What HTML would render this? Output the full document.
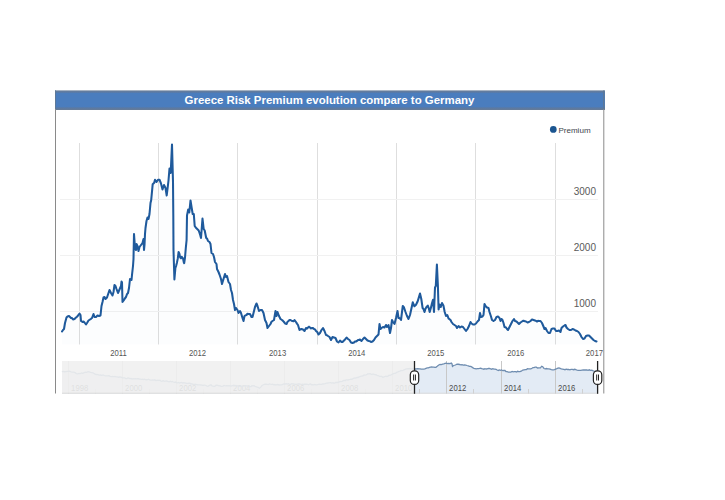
<!DOCTYPE html>
<html><head><meta charset="utf-8"><title>Greece Risk Premium</title>
<style>
html,body{margin:0;padding:0;background:#fff;width:725px;height:500px;overflow:hidden}
svg{display:block;position:absolute;left:0;top:0}
text{font-family:"Liberation Sans",Arial,sans-serif}
.tt{font-size:11.45px;font-weight:bold;fill:#fff}
.yl{font-size:10px;fill:#5a5a5a}
.xl{font-size:8.2px;fill:#555}
.nl{font-size:8.3px;fill:#4a4a4a}
.lg{font-size:8.05px;fill:#40454c}
</style></head>
<body>
<svg width="725" height="500" viewBox="0 0 725 500">
<line x1="79.5" y1="143" x2="79.5" y2="344.5" stroke="#dedede" stroke-width="1"/>
<line x1="158.5" y1="143" x2="158.5" y2="344.5" stroke="#dedede" stroke-width="1"/>
<line x1="237.5" y1="143" x2="237.5" y2="344.5" stroke="#dedede" stroke-width="1"/>
<line x1="317.5" y1="143" x2="317.5" y2="344.5" stroke="#dedede" stroke-width="1"/>
<line x1="396.5" y1="143" x2="396.5" y2="344.5" stroke="#dedede" stroke-width="1"/>
<line x1="475.5" y1="143" x2="475.5" y2="344.5" stroke="#dedede" stroke-width="1"/>
<line x1="555.5" y1="143" x2="555.5" y2="344.5" stroke="#dedede" stroke-width="1"/>
<line x1="60" y1="199.5" x2="598" y2="199.5" stroke="#f1f1f1" stroke-width="1"/>
<text x="596" y="195.2" text-anchor="end" class="yl">3000</text>
<line x1="60" y1="255.5" x2="598" y2="255.5" stroke="#f1f1f1" stroke-width="1"/>
<text x="596" y="251.2" text-anchor="end" class="yl">2000</text>
<line x1="60" y1="311.5" x2="598" y2="311.5" stroke="#f1f1f1" stroke-width="1"/>
<text x="596" y="307.2" text-anchor="end" class="yl">1000</text>
<text transform="translate(118.4,356) scale(0.94,1)" x="0" y="0" text-anchor="middle" class="xl">2011</text>
<text transform="translate(197.5,356) scale(0.94,1)" x="0" y="0" text-anchor="middle" class="xl">2012</text>
<text transform="translate(277.6,356) scale(0.94,1)" x="0" y="0" text-anchor="middle" class="xl">2013</text>
<text transform="translate(356.8,356) scale(0.94,1)" x="0" y="0" text-anchor="middle" class="xl">2014</text>
<text transform="translate(435.7,356) scale(0.94,1)" x="0" y="0" text-anchor="middle" class="xl">2015</text>
<text transform="translate(515.7,356) scale(0.94,1)" x="0" y="0" text-anchor="middle" class="xl">2016</text>
<text transform="translate(594.4,356) scale(0.94,1)" x="0" y="0" text-anchor="middle" class="xl">2017</text>
<path d="M62,331.5 L63,329.93 L64,329 L65,323 L66.5,317.5 L67.5,316.5 L69,316 L70,317 L71,318 L72,318.12 L73,319.5 L74.5,319 L76,317.5 L77,316.77 L78,315.5 L79.5,313.5 L80.5,315 L81,321 L82.5,322 L83.5,321.48 L84.5,322.5 L86,324.5 L87,323 L88.5,320.5 L90,319.5 L91,318.81 L92,318 L93.5,314 L94.5,317 L96,317 L97.5,315.5 L99,316 L100.5,315.5 L101.5,306 L102.5,302 L103.5,297.5 L104.5,297 L105.5,299 L107,297.5 L108.5,293 L109.5,290 L111,293 L112.5,295.5 L113.5,292 L114.5,285 L115.5,286 L116.5,289 L118,293 L119.5,289.5 L121,286 L121.5,281.5 L122,282.5 L122.5,302 L124,300 L125,298.26 L126,297 L127,294.2 L128,293 L129,288 L130,279 L131.5,280 L132,275 L133,266 L133.5,259 L134,234 L135,248 L136,250 L136.5,244 L137.5,246 L138.5,251 L139.5,247 L141,245 L142.5,243 L143.5,239 L144,250 L144.5,245 L145,234 L145.5,228 L146.5,221 L147.5,217.5 L148.5,219 L149.5,214 L150.5,203 L151.2,200 L152.7,184.2 L154.2,182.7 L155,179.7 L156.5,182 L158,179.7 L159.5,179.7 L161,183.5 L162.5,189.5 L164,185 L165.5,188 L166.7,195.5 L167.6,188.01 L168.5,180.5 L169.5,168.5 L170.7,173 L172,144.6 L173,182 L173.3,215 L173.5,250 L174.4,279.5 L175.4,268 L176.2,265.6 L177,262.4 L177.8,258.4 L178.6,252 L179.4,253.6 L180.2,257.6 L181,258.4 L181.8,256.8 L183,258.4 L183.8,262.4 L184.2,263.2 L185,257.6 L185.8,248 L186.6,240 L187,215.5 L188.2,209.5 L189.3,212.5 L190.5,200.5 L191.7,208 L192.7,214 L193.8,214 L194.7,226 L195.7,227.5 L197.2,229 L198.7,230.5 L200.2,235 L201,238 L202.5,218.5 L203.7,229 L204.7,230.5 L206.2,238 L207.1,238.67 L208,241 L209.5,242 L210.5,244 L211.5,253 L213,254 L214,257 L215,262 L216.5,264 L217,269 L218.5,272 L219.5,274.5 L221,279 L222,284 L223.5,279 L225,274 L226,277 L227,276 L228.5,282 L230,284 L231,290 L232,293 L233,300 L234,304 L235,310 L236,308 L237.5,310 L238.5,313 L240,311 L241,313 L242.5,318 L243.5,321 L244.5,316 L245.5,315.38 L246.5,315 L247.5,313.73 L248.5,314 L250,314 L251.5,317 L252.5,317 L254,311 L255,307 L256.5,303.5 L257.5,306 L259,311 L260.5,310 L262,310 L263.5,313 L265,320 L266.5,323 L267.5,328 L269,326 L270.5,324 L271.5,321.76 L272.5,321 L274,320 L275.5,311 L276.5,316 L277.5,312 L279,316 L280.5,319 L282,320 L283,320.86 L284,322 L285.25,323.59 L286.5,324 L287.5,321.82 L288.5,321 L289.5,320 L290.5,320 L291.5,320.73 L292.5,321 L293.5,321.31 L294.5,320 L296,322 L297,323.64 L298,325 L299.5,330 L300.5,329.31 L301.5,329 L303,329.5 L304.5,331 L306,328 L307,328.61 L308,327.5 L309,326.68 L310,327.5 L311,328.4 L312,328 L313,328.12 L314,329 L315,329.36 L316,331 L317.25,332.06 L318.5,334.5 L320,333 L321.5,330 L323,328 L324.5,331 L326,335 L327,335.16 L328,336 L329.5,337 L331,340 L332.5,337 L334,337.5 L335.5,338 L337,341.5 L338.5,342.5 L340,340.5 L341.5,342 L342.5,342.07 L343.5,341 L345,339.5 L346.5,337.5 L348,339 L349.5,340 L351,342.5 L352.5,343 L354,342.5 L355,341.43 L356,341.5 L357,340.9 L358,340 L359,340 L360,339.5 L361.5,341 L363,339 L364.5,337.5 L366,339 L367.5,340.5 L369,341 L370,341.27 L371,342 L372.5,341.5 L374,340 L375.5,337.5 L377,336 L378.5,334.5 L379.5,324 L380.5,329 L381.5,328 L383,327 L384.5,327.5 L386,325 L387,327 L388.5,325 L390,333 L391,328 L392,320 L393,322 L394.5,324 L396,318 L397.5,311 L398.5,318 L399.5,318 L401,320 L402,312 L402.8,306 L404,307.5 L405.5,312 L407,316 L408.5,319 L410,315 L411.2,309.5 L412.8,302.3 L414.4,306.3 L416,304.7 L417.6,301.5 L418.8,297.59 L420,293.5 L421.3,299 L422.6,308 L423.55,309.21 L424.5,312 L425.5,308.71 L426.5,307 L427.8,305.6 L428.75,308.27 L429.7,312 L430.7,308.52 L431.7,304.4 L433,299.8 L434,312 L435,287.5 L435.8,286 L436.9,264.6 L437.9,286 L438.6,309.5 L439.5,304.4 L440.8,307 L442,303 L443.4,305.4 L444.7,312 L446,316 L447.3,315 L448.6,318.6 L449.55,319.17 L450.5,320 L451.5,322 L453,324 L454.5,325 L456,326 L457,328 L458.5,326 L460,327.5 L461.5,326.5 L463,327 L464.5,329 L466,331 L467.5,329 L469,326 L470.5,322 L471.5,323.5 L473,324.5 L474.5,324.5 L476,323.5 L477.5,321.5 L479,320 L480,313 L481,317 L482.5,316.5 L483.5,315 L484.5,304 L485.5,306 L487,307.5 L488.5,308 L489.5,312 L491,316.5 L492,320 L493.5,321 L495,320 L496.5,317 L498,316.5 L499.5,318 L500.5,321 L501.5,319 L502.5,320 L503.5,323 L504.5,327 L506,327.5 L507,329 L508,330 L509.5,327 L510.5,325 L511.5,323 L512.5,321 L514,319 L515,321 L516.5,321.5 L518,323 L519,324 L520.5,322.5 L522,321.5 L523,320.82 L524,320.8 L525,321.3 L526,321.5 L527.5,322.5 L529,322 L530.5,321 L532,319.5 L533.5,320 L535,320.5 L536,320.92 L537,321.5 L538,320.89 L539,321 L540.5,321 L542,323 L543.5,326.5 L544.5,329 L545.5,328 L547,331 L548.5,333 L550,333 L551.5,329 L553,328.5 L554.5,328.5 L556,331 L557.5,331 L559,330.5 L560.5,332 L561.5,328 L563,326.5 L564.5,325.5 L565.5,325 L566.5,327.5 L568,329 L569.5,330 L571,330 L572.5,329 L574,329.5 L575.5,330.5 L577,331 L578.5,332 L580,334 L581.5,337 L583,339 L584.5,338.5 L586,336 L587.5,335.5 L589,335.5 L590.5,337 L592,338.5 L593.5,340 L595,341 L596.5,341.5 L596.5,344.5 L62,344.5 Z" fill="#1f5b9c" fill-opacity="0.012" stroke="none"/>
<path d="M62,331.5 L63,329.93 L64,329 L65,323 L66.5,317.5 L67.5,316.5 L69,316 L70,317 L71,318 L72,318.12 L73,319.5 L74.5,319 L76,317.5 L77,316.77 L78,315.5 L79.5,313.5 L80.5,315 L81,321 L82.5,322 L83.5,321.48 L84.5,322.5 L86,324.5 L87,323 L88.5,320.5 L90,319.5 L91,318.81 L92,318 L93.5,314 L94.5,317 L96,317 L97.5,315.5 L99,316 L100.5,315.5 L101.5,306 L102.5,302 L103.5,297.5 L104.5,297 L105.5,299 L107,297.5 L108.5,293 L109.5,290 L111,293 L112.5,295.5 L113.5,292 L114.5,285 L115.5,286 L116.5,289 L118,293 L119.5,289.5 L121,286 L121.5,281.5 L122,282.5 L122.5,302 L124,300 L125,298.26 L126,297 L127,294.2 L128,293 L129,288 L130,279 L131.5,280 L132,275 L133,266 L133.5,259 L134,234 L135,248 L136,250 L136.5,244 L137.5,246 L138.5,251 L139.5,247 L141,245 L142.5,243 L143.5,239 L144,250 L144.5,245 L145,234 L145.5,228 L146.5,221 L147.5,217.5 L148.5,219 L149.5,214 L150.5,203 L151.2,200 L152.7,184.2 L154.2,182.7 L155,179.7 L156.5,182 L158,179.7 L159.5,179.7 L161,183.5 L162.5,189.5 L164,185 L165.5,188 L166.7,195.5 L167.6,188.01 L168.5,180.5 L169.5,168.5 L170.7,173 L172,144.6 L173,182 L173.3,215 L173.5,250 L174.4,279.5 L175.4,268 L176.2,265.6 L177,262.4 L177.8,258.4 L178.6,252 L179.4,253.6 L180.2,257.6 L181,258.4 L181.8,256.8 L183,258.4 L183.8,262.4 L184.2,263.2 L185,257.6 L185.8,248 L186.6,240 L187,215.5 L188.2,209.5 L189.3,212.5 L190.5,200.5 L191.7,208 L192.7,214 L193.8,214 L194.7,226 L195.7,227.5 L197.2,229 L198.7,230.5 L200.2,235 L201,238 L202.5,218.5 L203.7,229 L204.7,230.5 L206.2,238 L207.1,238.67 L208,241 L209.5,242 L210.5,244 L211.5,253 L213,254 L214,257 L215,262 L216.5,264 L217,269 L218.5,272 L219.5,274.5 L221,279 L222,284 L223.5,279 L225,274 L226,277 L227,276 L228.5,282 L230,284 L231,290 L232,293 L233,300 L234,304 L235,310 L236,308 L237.5,310 L238.5,313 L240,311 L241,313 L242.5,318 L243.5,321 L244.5,316 L245.5,315.38 L246.5,315 L247.5,313.73 L248.5,314 L250,314 L251.5,317 L252.5,317 L254,311 L255,307 L256.5,303.5 L257.5,306 L259,311 L260.5,310 L262,310 L263.5,313 L265,320 L266.5,323 L267.5,328 L269,326 L270.5,324 L271.5,321.76 L272.5,321 L274,320 L275.5,311 L276.5,316 L277.5,312 L279,316 L280.5,319 L282,320 L283,320.86 L284,322 L285.25,323.59 L286.5,324 L287.5,321.82 L288.5,321 L289.5,320 L290.5,320 L291.5,320.73 L292.5,321 L293.5,321.31 L294.5,320 L296,322 L297,323.64 L298,325 L299.5,330 L300.5,329.31 L301.5,329 L303,329.5 L304.5,331 L306,328 L307,328.61 L308,327.5 L309,326.68 L310,327.5 L311,328.4 L312,328 L313,328.12 L314,329 L315,329.36 L316,331 L317.25,332.06 L318.5,334.5 L320,333 L321.5,330 L323,328 L324.5,331 L326,335 L327,335.16 L328,336 L329.5,337 L331,340 L332.5,337 L334,337.5 L335.5,338 L337,341.5 L338.5,342.5 L340,340.5 L341.5,342 L342.5,342.07 L343.5,341 L345,339.5 L346.5,337.5 L348,339 L349.5,340 L351,342.5 L352.5,343 L354,342.5 L355,341.43 L356,341.5 L357,340.9 L358,340 L359,340 L360,339.5 L361.5,341 L363,339 L364.5,337.5 L366,339 L367.5,340.5 L369,341 L370,341.27 L371,342 L372.5,341.5 L374,340 L375.5,337.5 L377,336 L378.5,334.5 L379.5,324 L380.5,329 L381.5,328 L383,327 L384.5,327.5 L386,325 L387,327 L388.5,325 L390,333 L391,328 L392,320 L393,322 L394.5,324 L396,318 L397.5,311 L398.5,318 L399.5,318 L401,320 L402,312 L402.8,306 L404,307.5 L405.5,312 L407,316 L408.5,319 L410,315 L411.2,309.5 L412.8,302.3 L414.4,306.3 L416,304.7 L417.6,301.5 L418.8,297.59 L420,293.5 L421.3,299 L422.6,308 L423.55,309.21 L424.5,312 L425.5,308.71 L426.5,307 L427.8,305.6 L428.75,308.27 L429.7,312 L430.7,308.52 L431.7,304.4 L433,299.8 L434,312 L435,287.5 L435.8,286 L436.9,264.6 L437.9,286 L438.6,309.5 L439.5,304.4 L440.8,307 L442,303 L443.4,305.4 L444.7,312 L446,316 L447.3,315 L448.6,318.6 L449.55,319.17 L450.5,320 L451.5,322 L453,324 L454.5,325 L456,326 L457,328 L458.5,326 L460,327.5 L461.5,326.5 L463,327 L464.5,329 L466,331 L467.5,329 L469,326 L470.5,322 L471.5,323.5 L473,324.5 L474.5,324.5 L476,323.5 L477.5,321.5 L479,320 L480,313 L481,317 L482.5,316.5 L483.5,315 L484.5,304 L485.5,306 L487,307.5 L488.5,308 L489.5,312 L491,316.5 L492,320 L493.5,321 L495,320 L496.5,317 L498,316.5 L499.5,318 L500.5,321 L501.5,319 L502.5,320 L503.5,323 L504.5,327 L506,327.5 L507,329 L508,330 L509.5,327 L510.5,325 L511.5,323 L512.5,321 L514,319 L515,321 L516.5,321.5 L518,323 L519,324 L520.5,322.5 L522,321.5 L523,320.82 L524,320.8 L525,321.3 L526,321.5 L527.5,322.5 L529,322 L530.5,321 L532,319.5 L533.5,320 L535,320.5 L536,320.92 L537,321.5 L538,320.89 L539,321 L540.5,321 L542,323 L543.5,326.5 L544.5,329 L545.5,328 L547,331 L548.5,333 L550,333 L551.5,329 L553,328.5 L554.5,328.5 L556,331 L557.5,331 L559,330.5 L560.5,332 L561.5,328 L563,326.5 L564.5,325.5 L565.5,325 L566.5,327.5 L568,329 L569.5,330 L571,330 L572.5,329 L574,329.5 L575.5,330.5 L577,331 L578.5,332 L580,334 L581.5,337 L583,339 L584.5,338.5 L586,336 L587.5,335.5 L589,335.5 L590.5,337 L592,338.5 L593.5,340 L595,341 L596.5,341.5" fill="none" stroke="#1f5a9c" stroke-width="2.05" stroke-linejoin="round" stroke-linecap="round"/>
<rect x="62" y="361" width="535.5" height="32.7" fill="#ffffff"/>
<path d="M62,371.7 L63.27,371.46 L64.53,371.74 L65.8,371.7 L67.1,371.42 L68.4,371.46 L69.7,371.2 L71.1,371.76 L72.5,372.1 L73.8,372.21 L75.1,372.66 L76.4,373.6 L77.7,373.9 L79,373.38 L80.3,373.6 L81.57,373.03 L82.83,373.38 L84.1,372.6 L85.4,372.27 L86.7,372.3 L88,371.7 L89.3,371.98 L90.6,372.43 L91.9,372.6 L93.1,372.76 L94.3,373.67 L95.5,374.36 L96.7,374.5 L97.97,374.69 L99.23,375.05 L100.5,375 L101.8,375.32 L103.1,374.94 L104.4,375.5 L105.56,375.89 L106.72,375.9 L107.88,375.8 L109.04,375.72 L110.2,376.3 L111.4,376.68 L112.6,376.38 L113.8,376.65 L115,376.5 L116.2,376.97 L117.4,376.94 L118.6,377.25 L119.8,377 L121.1,377.21 L122.4,377.87 L123.7,377.9 L124.75,377.97 L125.8,378.53 L126.85,378.59 L127.9,378 L128.95,378.16 L130,378.6 L131.04,378.38 L132.07,379.09 L133.11,378.65 L134.14,378.86 L135.18,378.6 L136.21,378.82 L137.25,378.75 L138.29,378.75 L139.32,379 L140.36,379.03 L141.39,379.36 L142.43,379.19 L143.46,379.45 L144.5,379.1 L145.54,379.52 L146.57,379.74 L147.61,379.55 L148.64,379.2 L149.68,379.92 L150.71,380.12 L151.75,380.16 L152.79,379.96 L153.82,380.19 L154.86,379.84 L155.89,380.5 L156.93,380.37 L157.96,380.21 L159,380.5 L160.03,380.21 L161.06,381.03 L162.09,381.26 L163.11,380.56 L164.14,381.31 L165.17,381.06 L166.2,380.94 L167.23,381.17 L168.26,381.71 L169.29,381.91 L170.31,381.27 L171.34,381.89 L172.37,381.48 L173.4,382 L174.44,382.3 L175.47,382.05 L176.51,382.64 L177.54,382.83 L178.58,382.5 L179.61,383.05 L180.65,382.53 L181.69,382.42 L182.72,382.99 L183.76,382.58 L184.79,382.83 L185.83,383.12 L186.86,383.4 L187.9,383.4 L188.91,383.22 L189.92,383.24 L190.93,384.11 L191.93,383.73 L192.94,384.44 L193.95,384.51 L194.96,384.17 L195.97,384.36 L196.97,384.54 L197.98,384.78 L198.99,384.86 L200,384.9 L201,385.01 L202,385.13 L203,385.48 L204,385.15 L205,385.2 L206,385.5 L207,386.13 L208,386.3 L209,385.56 L210,385.12 L211,384.8 L212,385.83 L213,386.02 L214,386.6 L215,386.18 L216,385.23 L217,385.2 L218,385.42 L219,385.87 L220,385.67 L221,386.4 L222,386.3 L223,386.12 L224,385.4 L225,385.6 L226,385.77 L227,385.69 L228,385.94 L229,385.71 L230,385.9 L231,386.02 L232,385.98 L233,385.27 L234,385.24 L235,385.73 L236,385.5 L237,386.1 L238,385.64 L239,386 L240,386.3 L241,386.4 L242,386.1 L243,386 L244,385.81 L245,385.72 L246,385.7 L247,386.01 L248,385.97 L249,386.26 L250,386.6 L251,386.6 L252,385.67 L253,385.91 L254,385.6 L255,386.34 L256,386.5 L257,387.2 L258.25,387.45 L259.5,388.2 L260.75,387.12 L262,385.5 L263.9,384.5 L265,384.24 L266.1,384.16 L267.2,384.36 L268.3,384.56 L269.4,384 L270.5,384.17 L271.6,384.3 L272.7,384.25 L273.8,384.8 L274.9,384.54 L276,385.02 L277.1,384.5 L278.2,384.75 L279.3,385 L280.46,384.94 L281.62,384.95 L282.78,384.36 L283.94,383.95 L285.1,384 L286.19,383.66 L287.28,384.03 L288.36,383.72 L289.45,384.28 L290.54,384.3 L291.62,383.72 L292.71,383.8 L293.8,384 L294.87,384.31 L295.93,384.19 L297,384.38 L298.07,383.99 L299.13,383.83 L300.2,384.01 L301.27,384.5 L302.33,384.06 L303.4,384.3 L304.44,384.18 L305.47,384.25 L306.51,384.27 L307.54,384.28 L308.58,384.75 L309.61,384.08 L310.65,383.95 L311.69,384.81 L312.72,384.77 L313.76,384.88 L314.79,384.4 L315.83,384.88 L316.86,384.87 L317.9,384.5 L319.1,384.12 L320.3,384.47 L321.5,384.43 L322.7,384 L323.93,383.9 L325.15,383.52 L326.38,383.06 L327.6,383 L328.66,382.84 L329.71,382.73 L330.77,382.57 L331.83,383.02 L332.89,382.74 L333.94,383.19 L335,382.9 L336,382.21 L337,382.7 L338,382.23 L339,382.16 L340,381.5 L341,381.65 L342,381.44 L343,380.94 L344,380.22 L345,380.67 L346,379.94 L347,379.85 L348,379.97 L349,379.63 L350,379.4 L351,379.05 L352,379.26 L353,378.69 L354,378.18 L355,377.83 L356,378.11 L357,377.49 L358,377.49 L359,376.84 L360,376.7 L361,376.05 L362,375.98 L363,375.86 L364,374.9 L365,375.09 L366,374.83 L367,374.35 L368,373.7 L369,374.12 L370,373.51 L371,374.2 L372,374.54 L373,373.94 L374,374.27 L375,374.6 L376,374.74 L377,375.32 L378,375.58 L379,375.98 L380,376.6 L381,376.25 L382,376.65 L383,377.4 L384,376.76 L385,376.46 L386,376.11 L387,376.63 L388,376.22 L389,375.23 L390,375.3 L391,374.88 L392,374.28 L393,373.86 L394,373.47 L395,373.31 L396,372.83 L397,372.2 L398,371.9 L399,371.27 L400,371.05 L401,370.51 L402,370.55 L403,370.34 L404,369.8 L405,369.46 L406,368.96 L407,368.81 L408,368.75 L409,368.73 L410,368.4 L411.12,368.8 L412.25,368.59 L413.38,369.12 L414.5,369 L415.5,369.01 L416.5,368.8 L417.75,368.74 L419,368.8 L420.1,368.82 L421.2,369.06 L422.3,369.2 L423.55,369.18 L424.8,368.8 L426,368.28 L427.2,367.9 L428.33,367.81 L429.47,367.33 L430.6,367.1 L431.7,366.87 L432.8,367.13 L433.9,367.1 L434.9,367.38 L435.9,367.3 L437.2,366.3 L438.8,365 L440.05,364.41 L441.3,364.6 L442.55,364.13 L443.8,363.8 L445.05,363.38 L446.3,363.1 L447.55,363.59 L448.8,363.4 L450.05,363.59 L451.3,363 L452,363.8 L452.5,366.3 L453.7,365.5 L455.4,365 L457,364.2 L458.25,364.24 L459.5,364.5 L460.75,364.91 L462,364.6 L463.25,365.06 L464.5,365 L465.75,365.04 L467,365.5 L468.25,365.87 L469.5,366.3 L470.75,366.36 L472,367.1 L473,367.98 L474,368.3 L475.1,368.55 L476.2,368.85 L477.3,368.6 L478.4,368.7 L479.5,368.42 L480.6,368.1 L481.7,368.68 L482.8,368.89 L483.9,369.2 L485,368.71 L486.1,369.01 L487.2,368.8 L488.33,368.35 L489.47,368.48 L490.6,368.8 L491.7,369.18 L492.8,368.66 L493.9,369.2 L495,369.1 L496.1,369.37 L497.2,370 L498.3,370.44 L499.4,369.91 L500.5,370.3 L501.6,369.9 L502.7,370.67 L503.8,370.4 L504.9,370.49 L506,371.58 L507.1,371.7 L508.35,372.06 L509.6,372.1 L510.85,372.05 L512.1,371.4 L513.2,371.91 L514.3,371.67 L515.4,371.7 L516.5,371.97 L517.6,371.28 L518.7,371.7 L519.95,371.69 L521.2,371.2 L522.8,370 L524.05,369.81 L525.3,369.6 L526.4,369.53 L527.5,368.71 L528.6,368.8 L529.73,368.86 L530.87,368.86 L532,368.3 L533,367.56 L534,367.6 L535.15,367.19 L536.3,367.1 L537.6,368 L539,367.96 L540.4,367.8 L541.7,366.2 L542.7,366.7 L544,368.5 L545.23,368.93 L546.47,368.53 L547.7,368.9 L548.9,368.88 L550.1,369.21 L551.3,369.7 L552.37,369.8 L553.43,369.93 L554.5,369.7 L555.65,369.1 L556.8,368.7 L557.9,368.23 L559,368 L560.15,368.36 L561.3,368.9 L562.53,369.03 L563.77,369.36 L565,369.7 L566.2,369.22 L567.4,369.5 L568.6,369.4 L569.83,369.83 L571.07,369.32 L572.3,369.4 L573.5,369.72 L574.7,369.29 L575.9,369.7 L577.1,370.07 L578.3,370.33 L579.5,370.3 L580.73,370.36 L581.97,370.12 L583.2,370 L584.4,369.92 L585.6,370 L586.8,369.8 L588.03,370.32 L589.27,369.82 L590.5,370.3 L591.85,370.19 L593.2,370.8 L594.28,371.12 L595.35,371.37 L596.42,371.12 L597.5,371.2 L597.5,393.7 L62,393.7 Z" fill="#e3ebf5"/>
<line x1="68.5" y1="361" x2="68.5" y2="393.7" stroke="#c8c8c8" stroke-width="1"/>
<text transform="translate(71.1,390.8) scale(0.93,1)" class="nl">1998</text>
<line x1="95.5" y1="389" x2="95.5" y2="393.7" stroke="#d0d0d0" stroke-width="1"/>
<line x1="122.5" y1="361" x2="122.5" y2="393.7" stroke="#c8c8c8" stroke-width="1"/>
<text transform="translate(125.1,390.8) scale(0.93,1)" class="nl">2000</text>
<line x1="149.5" y1="389" x2="149.5" y2="393.7" stroke="#d0d0d0" stroke-width="1"/>
<line x1="176.5" y1="361" x2="176.5" y2="393.7" stroke="#c8c8c8" stroke-width="1"/>
<text transform="translate(179.1,390.8) scale(0.93,1)" class="nl">2002</text>
<line x1="203.5" y1="389" x2="203.5" y2="393.7" stroke="#d0d0d0" stroke-width="1"/>
<line x1="230.5" y1="361" x2="230.5" y2="393.7" stroke="#c8c8c8" stroke-width="1"/>
<text transform="translate(233.1,390.8) scale(0.93,1)" class="nl">2004</text>
<line x1="257.5" y1="389" x2="257.5" y2="393.7" stroke="#d0d0d0" stroke-width="1"/>
<line x1="284.5" y1="361" x2="284.5" y2="393.7" stroke="#c8c8c8" stroke-width="1"/>
<text transform="translate(287.1,390.8) scale(0.93,1)" class="nl">2006</text>
<line x1="311.5" y1="389" x2="311.5" y2="393.7" stroke="#d0d0d0" stroke-width="1"/>
<line x1="338.5" y1="361" x2="338.5" y2="393.7" stroke="#c8c8c8" stroke-width="1"/>
<text transform="translate(341.1,390.8) scale(0.93,1)" class="nl">2008</text>
<line x1="365.5" y1="389" x2="365.5" y2="393.7" stroke="#d0d0d0" stroke-width="1"/>
<line x1="392.5" y1="361" x2="392.5" y2="393.7" stroke="#c8c8c8" stroke-width="1"/>
<text transform="translate(395.1,390.8) scale(0.93,1)" class="nl">2010</text>
<line x1="419.5" y1="389" x2="419.5" y2="393.7" stroke="#d0d0d0" stroke-width="1"/>
<line x1="446.5" y1="361" x2="446.5" y2="393.7" stroke="#c8c8c8" stroke-width="1"/>
<text transform="translate(449.1,390.8) scale(0.93,1)" class="nl">2012</text>
<line x1="473.5" y1="389" x2="473.5" y2="393.7" stroke="#d0d0d0" stroke-width="1"/>
<line x1="501.5" y1="361" x2="501.5" y2="393.7" stroke="#c8c8c8" stroke-width="1"/>
<text transform="translate(504.1,390.8) scale(0.93,1)" class="nl">2014</text>
<line x1="528.5" y1="389" x2="528.5" y2="393.7" stroke="#d0d0d0" stroke-width="1"/>
<line x1="555.5" y1="361" x2="555.5" y2="393.7" stroke="#c8c8c8" stroke-width="1"/>
<text transform="translate(558.1,390.8) scale(0.93,1)" class="nl">2016</text>
<line x1="582.5" y1="389" x2="582.5" y2="393.7" stroke="#d0d0d0" stroke-width="1"/>
<path d="M62,371.7 L63.27,371.46 L64.53,371.74 L65.8,371.7 L67.1,371.42 L68.4,371.46 L69.7,371.2 L71.1,371.76 L72.5,372.1 L73.8,372.21 L75.1,372.66 L76.4,373.6 L77.7,373.9 L79,373.38 L80.3,373.6 L81.57,373.03 L82.83,373.38 L84.1,372.6 L85.4,372.27 L86.7,372.3 L88,371.7 L89.3,371.98 L90.6,372.43 L91.9,372.6 L93.1,372.76 L94.3,373.67 L95.5,374.36 L96.7,374.5 L97.97,374.69 L99.23,375.05 L100.5,375 L101.8,375.32 L103.1,374.94 L104.4,375.5 L105.56,375.89 L106.72,375.9 L107.88,375.8 L109.04,375.72 L110.2,376.3 L111.4,376.68 L112.6,376.38 L113.8,376.65 L115,376.5 L116.2,376.97 L117.4,376.94 L118.6,377.25 L119.8,377 L121.1,377.21 L122.4,377.87 L123.7,377.9 L124.75,377.97 L125.8,378.53 L126.85,378.59 L127.9,378 L128.95,378.16 L130,378.6 L131.04,378.38 L132.07,379.09 L133.11,378.65 L134.14,378.86 L135.18,378.6 L136.21,378.82 L137.25,378.75 L138.29,378.75 L139.32,379 L140.36,379.03 L141.39,379.36 L142.43,379.19 L143.46,379.45 L144.5,379.1 L145.54,379.52 L146.57,379.74 L147.61,379.55 L148.64,379.2 L149.68,379.92 L150.71,380.12 L151.75,380.16 L152.79,379.96 L153.82,380.19 L154.86,379.84 L155.89,380.5 L156.93,380.37 L157.96,380.21 L159,380.5 L160.03,380.21 L161.06,381.03 L162.09,381.26 L163.11,380.56 L164.14,381.31 L165.17,381.06 L166.2,380.94 L167.23,381.17 L168.26,381.71 L169.29,381.91 L170.31,381.27 L171.34,381.89 L172.37,381.48 L173.4,382 L174.44,382.3 L175.47,382.05 L176.51,382.64 L177.54,382.83 L178.58,382.5 L179.61,383.05 L180.65,382.53 L181.69,382.42 L182.72,382.99 L183.76,382.58 L184.79,382.83 L185.83,383.12 L186.86,383.4 L187.9,383.4 L188.91,383.22 L189.92,383.24 L190.93,384.11 L191.93,383.73 L192.94,384.44 L193.95,384.51 L194.96,384.17 L195.97,384.36 L196.97,384.54 L197.98,384.78 L198.99,384.86 L200,384.9 L201,385.01 L202,385.13 L203,385.48 L204,385.15 L205,385.2 L206,385.5 L207,386.13 L208,386.3 L209,385.56 L210,385.12 L211,384.8 L212,385.83 L213,386.02 L214,386.6 L215,386.18 L216,385.23 L217,385.2 L218,385.42 L219,385.87 L220,385.67 L221,386.4 L222,386.3 L223,386.12 L224,385.4 L225,385.6 L226,385.77 L227,385.69 L228,385.94 L229,385.71 L230,385.9 L231,386.02 L232,385.98 L233,385.27 L234,385.24 L235,385.73 L236,385.5 L237,386.1 L238,385.64 L239,386 L240,386.3 L241,386.4 L242,386.1 L243,386 L244,385.81 L245,385.72 L246,385.7 L247,386.01 L248,385.97 L249,386.26 L250,386.6 L251,386.6 L252,385.67 L253,385.91 L254,385.6 L255,386.34 L256,386.5 L257,387.2 L258.25,387.45 L259.5,388.2 L260.75,387.12 L262,385.5 L263.9,384.5 L265,384.24 L266.1,384.16 L267.2,384.36 L268.3,384.56 L269.4,384 L270.5,384.17 L271.6,384.3 L272.7,384.25 L273.8,384.8 L274.9,384.54 L276,385.02 L277.1,384.5 L278.2,384.75 L279.3,385 L280.46,384.94 L281.62,384.95 L282.78,384.36 L283.94,383.95 L285.1,384 L286.19,383.66 L287.28,384.03 L288.36,383.72 L289.45,384.28 L290.54,384.3 L291.62,383.72 L292.71,383.8 L293.8,384 L294.87,384.31 L295.93,384.19 L297,384.38 L298.07,383.99 L299.13,383.83 L300.2,384.01 L301.27,384.5 L302.33,384.06 L303.4,384.3 L304.44,384.18 L305.47,384.25 L306.51,384.27 L307.54,384.28 L308.58,384.75 L309.61,384.08 L310.65,383.95 L311.69,384.81 L312.72,384.77 L313.76,384.88 L314.79,384.4 L315.83,384.88 L316.86,384.87 L317.9,384.5 L319.1,384.12 L320.3,384.47 L321.5,384.43 L322.7,384 L323.93,383.9 L325.15,383.52 L326.38,383.06 L327.6,383 L328.66,382.84 L329.71,382.73 L330.77,382.57 L331.83,383.02 L332.89,382.74 L333.94,383.19 L335,382.9 L336,382.21 L337,382.7 L338,382.23 L339,382.16 L340,381.5 L341,381.65 L342,381.44 L343,380.94 L344,380.22 L345,380.67 L346,379.94 L347,379.85 L348,379.97 L349,379.63 L350,379.4 L351,379.05 L352,379.26 L353,378.69 L354,378.18 L355,377.83 L356,378.11 L357,377.49 L358,377.49 L359,376.84 L360,376.7 L361,376.05 L362,375.98 L363,375.86 L364,374.9 L365,375.09 L366,374.83 L367,374.35 L368,373.7 L369,374.12 L370,373.51 L371,374.2 L372,374.54 L373,373.94 L374,374.27 L375,374.6 L376,374.74 L377,375.32 L378,375.58 L379,375.98 L380,376.6 L381,376.25 L382,376.65 L383,377.4 L384,376.76 L385,376.46 L386,376.11 L387,376.63 L388,376.22 L389,375.23 L390,375.3 L391,374.88 L392,374.28 L393,373.86 L394,373.47 L395,373.31 L396,372.83 L397,372.2 L398,371.9 L399,371.27 L400,371.05 L401,370.51 L402,370.55 L403,370.34 L404,369.8 L405,369.46 L406,368.96 L407,368.81 L408,368.75 L409,368.73 L410,368.4 L411.12,368.8 L412.25,368.59 L413.38,369.12 L414.5,369 L415.5,369.01 L416.5,368.8 L417.75,368.74 L419,368.8 L420.1,368.82 L421.2,369.06 L422.3,369.2 L423.55,369.18 L424.8,368.8 L426,368.28 L427.2,367.9 L428.33,367.81 L429.47,367.33 L430.6,367.1 L431.7,366.87 L432.8,367.13 L433.9,367.1 L434.9,367.38 L435.9,367.3 L437.2,366.3 L438.8,365 L440.05,364.41 L441.3,364.6 L442.55,364.13 L443.8,363.8 L445.05,363.38 L446.3,363.1 L447.55,363.59 L448.8,363.4 L450.05,363.59 L451.3,363 L452,363.8 L452.5,366.3 L453.7,365.5 L455.4,365 L457,364.2 L458.25,364.24 L459.5,364.5 L460.75,364.91 L462,364.6 L463.25,365.06 L464.5,365 L465.75,365.04 L467,365.5 L468.25,365.87 L469.5,366.3 L470.75,366.36 L472,367.1 L473,367.98 L474,368.3 L475.1,368.55 L476.2,368.85 L477.3,368.6 L478.4,368.7 L479.5,368.42 L480.6,368.1 L481.7,368.68 L482.8,368.89 L483.9,369.2 L485,368.71 L486.1,369.01 L487.2,368.8 L488.33,368.35 L489.47,368.48 L490.6,368.8 L491.7,369.18 L492.8,368.66 L493.9,369.2 L495,369.1 L496.1,369.37 L497.2,370 L498.3,370.44 L499.4,369.91 L500.5,370.3 L501.6,369.9 L502.7,370.67 L503.8,370.4 L504.9,370.49 L506,371.58 L507.1,371.7 L508.35,372.06 L509.6,372.1 L510.85,372.05 L512.1,371.4 L513.2,371.91 L514.3,371.67 L515.4,371.7 L516.5,371.97 L517.6,371.28 L518.7,371.7 L519.95,371.69 L521.2,371.2 L522.8,370 L524.05,369.81 L525.3,369.6 L526.4,369.53 L527.5,368.71 L528.6,368.8 L529.73,368.86 L530.87,368.86 L532,368.3 L533,367.56 L534,367.6 L535.15,367.19 L536.3,367.1 L537.6,368 L539,367.96 L540.4,367.8 L541.7,366.2 L542.7,366.7 L544,368.5 L545.23,368.93 L546.47,368.53 L547.7,368.9 L548.9,368.88 L550.1,369.21 L551.3,369.7 L552.37,369.8 L553.43,369.93 L554.5,369.7 L555.65,369.1 L556.8,368.7 L557.9,368.23 L559,368 L560.15,368.36 L561.3,368.9 L562.53,369.03 L563.77,369.36 L565,369.7 L566.2,369.22 L567.4,369.5 L568.6,369.4 L569.83,369.83 L571.07,369.32 L572.3,369.4 L573.5,369.72 L574.7,369.29 L575.9,369.7 L577.1,370.07 L578.3,370.33 L579.5,370.3 L580.73,370.36 L581.97,370.12 L583.2,370 L584.4,369.92 L585.6,370 L586.8,369.8 L588.03,370.32 L589.27,369.82 L590.5,370.3 L591.85,370.19 L593.2,370.8 L594.28,371.12 L595.35,371.37 L596.42,371.12 L597.5,371.2" fill="none" stroke="#6f8db0" stroke-width="1.3"/>
<rect x="62" y="361" width="352.5" height="32.7" fill="#efefef" fill-opacity="0.9"/>
<line x1="62" y1="393.2" x2="597.5" y2="393.2" stroke="#d6d6d6" stroke-width="0.8"/>
<line x1="414.5" y1="361" x2="414.5" y2="393.8" stroke="#222" stroke-width="1.3"/><rect x="410.3" y="370.8" width="8.4" height="13.6" rx="4" ry="4" fill="#fff" stroke="#222" stroke-width="1.2"/><line x1="413.6" y1="374.5" x2="413.6" y2="380.5" stroke="#222" stroke-width="1"/><line x1="415.4" y1="374.5" x2="415.4" y2="380.5" stroke="#222" stroke-width="1"/>
<line x1="597.6" y1="361" x2="597.6" y2="393.8" stroke="#222" stroke-width="1.3"/><rect x="593.4" y="370.8" width="8.4" height="13.6" rx="4" ry="4" fill="#fff" stroke="#222" stroke-width="1.2"/><line x1="596.7" y1="374.5" x2="596.7" y2="380.5" stroke="#222" stroke-width="1"/><line x1="598.5" y1="374.5" x2="598.5" y2="380.5" stroke="#222" stroke-width="1"/>
<circle cx="553.3" cy="129.4" r="3.35" fill="#1b5590"/>
<text x="558.4" y="132.6" class="lg">Premium</text>
<defs><linearGradient id="tg" x1="0" y1="0" x2="0" y2="1"><stop offset="0" stop-color="#6b7f99"/><stop offset="0.09" stop-color="#5c7aa3"/><stop offset="0.16" stop-color="#4a7dbe"/><stop offset="0.82" stop-color="#4a7dbe"/><stop offset="0.9" stop-color="#5a79a2"/><stop offset="1" stop-color="#687c96"/></linearGradient></defs>
<rect x="55" y="90.4" width="550" height="19.6" fill="url(#tg)"/>
<line x1="55.5" y1="90.4" x2="55.5" y2="110" stroke="#5d7897" stroke-width="1"/><line x1="603.8" y1="90.4" x2="603.8" y2="110" stroke="#5d7897" stroke-width="1.4"/>
<text x="329.5" y="103.6" text-anchor="middle" class="tt">Greece Risk Premium evolution compare to Germany</text>
<line x1="55.5" y1="109" x2="55.5" y2="393.5" stroke="#8a8a8a" stroke-width="1"/>
<line x1="603.8" y1="109" x2="603.8" y2="393.5" stroke="#8a8a8a" stroke-width="1"/>
</svg>
</body></html>
